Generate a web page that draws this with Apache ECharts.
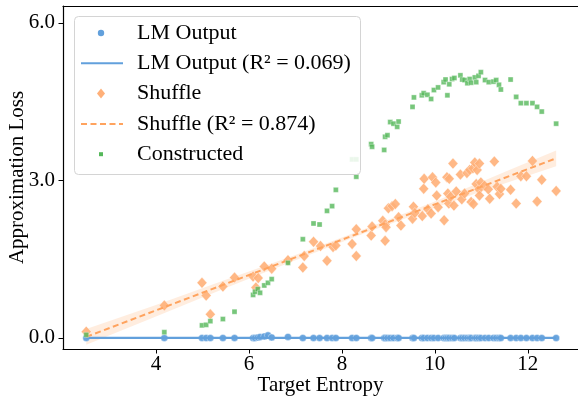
<!DOCTYPE html>
<html>
<head>
<meta charset="utf-8">
<script src="https://cdn.jsdelivr.net/npm/echarts@6/dist/echarts.min.js"></script>
<style>html,body{margin:0;padding:0;background:#fff}#c{width:578px;height:400px}</style>
</head>
<body>
<div id="c"></div>
<script>
// ---- data ----
const xTicks = [4, 6, 8, 10, 12];
const yTicks = [0, 3, 6];

const lmEntropy = [2.50,4.18,4.99,5.08,5.17,5.44,5.69,6.09,6.13,6.19,6.24,6.33,6.41,6.49,6.84,7.16,7.39,7.52,7.68,7.79,7.87,8.22,8.31,8.63,8.65,8.91,8.93,8.98,9.04,9.11,9.19,9.22,9.52,9.55,9.72,9.76,9.84,9.92,9.98,10.07,10.19,10.23,10.27,10.31,10.37,10.42,10.55,10.59,10.64,10.70,10.75,10.78,10.86,10.89,10.94,10.99,11.08,11.16,11.26,11.32,11.38,11.42,11.63,11.75,11.85,11.97,12.10,12.20,12.30,12.61];
const lmLoss    = [0.00,0.00,0.00,0.00,0.00,0.00,0.00,0.00,0.00,0.01,0.02,0.03,0.05,0.01,0.02,0.00,0.00,0.00,0.00,0.00,0.00,0.00,0.00,0.00,0.00,0.00,0.00,0.00,0.00,0.00,0.00,0.00,0.00,0.00,0.00,0.00,0.00,0.00,0.00,0.00,0.00,0.00,0.00,0.00,0.00,0.00,0.00,0.00,0.00,0.00,0.00,0.00,0.00,0.00,0.00,0.00,0.00,0.00,0.00,0.00,0.00,0.00,0.00,0.00,0.00,0.00,0.00,0.00,0.00,0.00];

const shuffleEntropy = [2.50,4.18,4.99,5.08,5.17,5.44,5.69,6.09,6.15,6.20,6.33,6.49,6.84,7.16,7.19,7.39,7.54,7.68,7.81,7.87,8.22,8.31,8.31,8.63,8.65,8.88,8.93,8.95,8.93,9.00,9.08,9.15,9.22,9.27,9.52,9.54,9.57,9.73,9.76,9.77,9.85,9.92,9.95,10.02,10.04,10.07,10.20,10.26,10.31,10.28,10.30,10.34,10.39,10.41,10.46,10.55,10.58,10.64,10.69,10.75,10.82,10.86,10.91,10.96,10.89,10.95,10.78,10.83,10.99,10.96,11.07,11.15,11.18,11.28,11.34,11.39,11.42,11.63,11.75,11.85,11.97,12.10,12.20,12.30,12.61];
const shuffleLoss    = [0.12,0.62,1.05,0.81,0.45,0.98,1.15,1.17,0.96,1.14,1.36,1.32,1.48,1.34,1.56,1.83,1.75,1.47,1.73,1.76,1.79,2.07,1.56,1.95,2.12,2.23,2.16,2.11,1.85,2.47,2.51,2.55,2.30,2.14,2.27,2.50,2.38,2.32,2.84,3.03,2.45,2.37,3.06,2.96,2.71,2.49,2.24,3.06,3.03,2.75,2.56,2.69,3.32,2.52,2.79,3.11,2.64,2.75,3.14,3.20,3.23,3.34,3.20,3.32,2.93,2.83,2.59,2.55,2.96,2.71,2.90,2.83,2.65,3.36,2.88,2.74,2.84,2.82,2.56,3.08,3.08,3.37,2.60,3.01,2.80];

const constructedEntropy = [2.50,4.18,4.99,5.08,5.17,5.44,5.69,6.09,6.13,6.19,6.24,6.33,6.41,6.49,6.84,7.16,7.39,7.52,7.68,7.79,7.87,8.22,8.31,8.31,8.63,8.65,8.91,8.93,8.98,9.04,9.11,9.19,9.22,9.52,9.55,9.72,9.76,9.84,9.92,9.98,10.07,10.19,10.23,10.27,10.31,10.37,10.42,10.55,10.59,10.64,10.70,10.75,10.78,10.86,10.89,10.94,10.99,11.08,11.16,11.26,11.32,11.38,11.42,11.63,11.75,11.85,11.97,12.10,12.20,12.30,12.61];
const constructedLoss    = [0.06,0.11,0.24,0.25,0.32,0.36,0.50,0.82,0.88,0.93,0.86,1.00,1.05,1.12,1.43,1.88,2.18,2.16,2.42,2.51,2.82,3.40,3.40,3.07,3.69,3.64,3.58,3.83,3.86,4.11,4.08,4.02,4.12,4.40,4.58,4.62,4.66,4.63,4.55,4.72,4.77,4.87,4.92,4.62,4.83,4.93,4.95,5.00,4.92,4.91,4.85,4.93,4.86,4.96,4.87,4.99,5.06,4.91,4.87,4.88,4.91,4.82,4.73,4.92,4.59,4.47,4.47,4.47,4.40,4.31,4.08];

const lmFitX = [2.50, 12.61];
const lmFitY = [0.00, 0.00];
const shuffleFitX = [2.50, 12.61];
const shuffleFitY = [0.02, 3.42];
const bandX     = [2.50, 4.00, 5.50, 7.00, 8.50, 10.00, 11.50, 12.61];
const bandUpper = [0.17, 0.63, 1.11, 1.58, 2.08, 2.60, 3.16, 3.57];
const bandLower = [-0.13, 0.41, 0.95, 1.48, 2.00, 2.48, 2.94, 3.27];

const legendLabels = ['LM Output', 'LM Output (R\u00B2 = 0.069)', 'Shuffle', 'Shuffle (R\u00B2 = 0.874)', 'Constructed'];

// ---- styles ----
const BLUE = '#62a0dc', ORANGE = '#ffb079', ORANGE_LINE = '#ffa35e', GREEN = '#55b85a', BAND = 'rgba(255,178,120,0.24)';
const FONT = '"Liberation Serif", "DejaVu Serif", serif';

const zip = (a, b) => a.map((v, i) => [v, b[i]]);

const chart = echarts.init(document.getElementById('c'), null, {renderer: 'canvas'});

const bandPoly = {
  type: 'custom',
  silent: true,
  z: 1,
  renderItem: function (params, api) {
    if (params.dataIndex !== 0) return null;
    const pts = [];
    for (let i = 0; i < bandX.length; i++) pts.push(api.coord([bandX[i], bandUpper[i]]));
    for (let i = bandX.length - 1; i >= 0; i--) pts.push(api.coord([bandX[i], bandLower[i]]));
    return {type: 'polygon', shape: {points: pts}, style: {fill: BAND}};
  },
  data: [[bandX[0], bandUpper[0]]],
  clip: true
};

const legX = 74, legY = 16, rowH = 30.3;
const legendGraphics = [
  {type: 'rect', left: legX, top: legY, shape: {width: 286, height: 158, r: 4}, style: {fill: 'rgba(255,255,255,0.85)', stroke: '#d4d4d4', lineWidth: 1}, z: 100}
];
const rowY = i => legY + 17 + i * rowH;
legendGraphics.push({type: 'circle', shape: {cx: 101, cy: rowY(0), r: 3.2}, style: {fill: BLUE}, z: 101});
legendGraphics.push({type: 'line', shape: {x1: 81, y1: rowY(1), x2: 123, y2: rowY(1)}, style: {stroke: BLUE, lineWidth: 2}, z: 101});
legendGraphics.push({type: 'polygon', shape: {points: [[101, rowY(2) - 5], [105, rowY(2)], [101, rowY(2) + 5], [97, rowY(2)]]}, style: {fill: ORANGE}, z: 101});
legendGraphics.push({type: 'line', shape: {x1: 81, y1: rowY(3), x2: 123, y2: rowY(3)}, style: {stroke: ORANGE_LINE, lineWidth: 2, lineDash: [6, 3.5]}, z: 101});
legendGraphics.push({type: 'rect', shape: {x: 99, y: rowY(4) - 2, width: 4, height: 4}, style: {fill: GREEN}, z: 101});
legendLabels.forEach((t, i) => {
  legendGraphics.push({type: 'text', x: 137, y: rowY(i), style: {text: t, font: '22px ' + FONT, fill: '#000', verticalAlign: 'middle', align: 'left'}, z: 101});
});

const option = {
  animation: false,
  backgroundColor: '#fff',
  grid: {left: 63, top: 6, right: 0, bottom: 51, containLabel: false, outerBoundsMode: 'none'},
  xAxis: [{
    type: 'value', min: 2.0, max: 13.08,
    name: 'Target Entropy', nameLocation: 'middle', nameGap: 26, nameMoveOverlap: false,
    nameTextStyle: {fontFamily: FONT, fontSize: 21, color: '#000'},
    axisLine: {show: true, onZero: false, lineStyle: {color: '#000', width: 1.2}},
    axisTick: {show: true, length: 4.5, lineStyle: {color: '#000', width: 1}, customValues: xTicks},
    axisLabel: {fontFamily: FONT, fontSize: 21, color: '#000', margin: 5, customValues: xTicks},
    splitLine: {show: false}
  }, {
    type: 'value', position: 'top', min: 2.0, max: 13.08,
    axisLine: {show: true, onZero: false, lineStyle: {color: '#000', width: 1.2}},
    axisTick: {show: false}, axisLabel: {show: false}, splitLine: {show: false}
  }],
  yAxis: {
    type: 'value', min: -0.21, max: 6.32,
    name: 'Approximation Loss', nameLocation: 'middle', nameGap: 35, nameMoveOverlap: false,
    nameTextStyle: {fontFamily: FONT, fontSize: 21, color: '#000'},
    axisLine: {show: true, onZero: false, lineStyle: {color: '#000', width: 1.2}},
    axisTick: {show: true, length: 4.5, lineStyle: {color: '#000', width: 1}, customValues: yTicks},
    axisLabel: {fontFamily: FONT, fontSize: 21, color: '#000', margin: 8, customValues: yTicks, formatter: v => v.toFixed(1)},
    splitLine: {show: false}
  },
  graphic: legendGraphics,
  series: [
    {type: 'scatter', name: legendLabels[0], data: zip(lmEntropy, lmLoss), symbol: 'circle', symbolSize: 7,
      itemStyle: {color: BLUE, opacity: 0.95, borderColor: '#fff', borderWidth: 0.4}, z: 2},
    {type: 'line', name: legendLabels[1], data: zip(lmFitX, lmFitY), showSymbol: false, symbol: 'none',
      lineStyle: {color: BLUE, width: 2.2}, z: 3},
    bandPoly,
    {type: 'scatter', name: legendLabels[2], data: zip(shuffleEntropy, shuffleLoss), symbol: 'diamond', symbolSize: [10, 11],
      itemStyle: {color: ORANGE, opacity: 0.9, borderColor: '#fff', borderWidth: 0.4}, z: 4},
    {type: 'line', name: legendLabels[3], data: zip(shuffleFitX, shuffleFitY), showSymbol: false, symbol: 'none',
      lineStyle: {color: ORANGE_LINE, width: 2, type: [6, 3.5]}, z: 5},
    {type: 'scatter', name: legendLabels[4], data: zip(constructedEntropy, constructedLoss), symbol: 'rect', symbolSize: 5,
      itemStyle: {color: GREEN, borderColor: '#fff', borderWidth: 0.4}, z: 6}
  ]
};
chart.setOption(option);
</script>
</body>
</html>
